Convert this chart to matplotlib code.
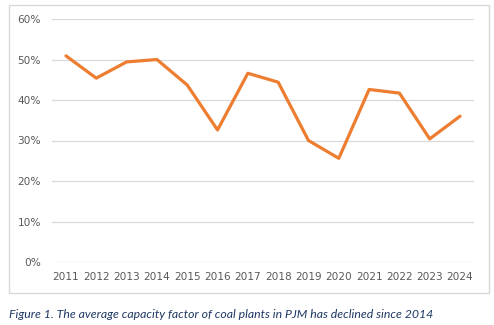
import matplotlib
matplotlib.use("Agg")
import matplotlib.pyplot as plt
from matplotlib.patches import Rectangle
from matplotlib.ticker import PercentFormatter

# average capacity factor of coal plants in PJM
years = ['2011', '2012', '2013', '2014', '2015', '2016', '2017',
         '2018', '2019', '2020', '2021', '2022', '2023', '2024']
capacity_factor = [0.509, 0.454, 0.494, 0.500, 0.437, 0.326, 0.466,
                   0.444, 0.300, 0.256, 0.426, 0.417, 0.304, 0.360]
caption = 'Figure 1. The average capacity factor of coal plants in PJM has declined since 2014'

W, H = 494, 325
fig = plt.figure(figsize=(W / 100, H / 100), dpi=100)
fig.patch.set_facecolor('white')

# chart frame
fig.patches.append(Rectangle((9 / W, 1 - 293 / H), 480 / W, 288 / H,
                             transform=fig.transFigure, fill=False,
                             edgecolor='#d9d9d9', linewidth=1.0))

ax = fig.add_axes([52 / W, 1 - 262 / H, 422 / W, 243 / H])
x = range(len(years))
ax.plot(x, capacity_factor, color='#ed7d31', linewidth=2.3,
        solid_joinstyle='round', solid_capstyle='round', zorder=3)

ax.set_xlim(-0.46, len(years) - 1 + 0.46)
ax.set_ylim(0, 0.6)
ax.set_yticks([0, 0.1, 0.2, 0.3, 0.4, 0.5, 0.6])
ax.yaxis.set_major_formatter(PercentFormatter(1.0, decimals=0))
ax.set_xticks(list(x))
ax.set_xticklabels(years)
ax.grid(axis='y', color='#d9d9d9', linewidth=0.9)
ax.set_axisbelow(True)
for s in ax.spines.values():
    s.set_visible(False)
ax.tick_params(axis='both', length=0, labelsize=7.6, labelcolor='#595959')
ax.tick_params(axis='y', pad=8)
ax.tick_params(axis='x', pad=7)

fig.text(9 / W, 1 - 315 / H, caption, ha='left', va='center',
         fontsize=8.8, style='italic', color='#1f3864', family='Lato')

fig.savefig('out.png', dpi=100)
